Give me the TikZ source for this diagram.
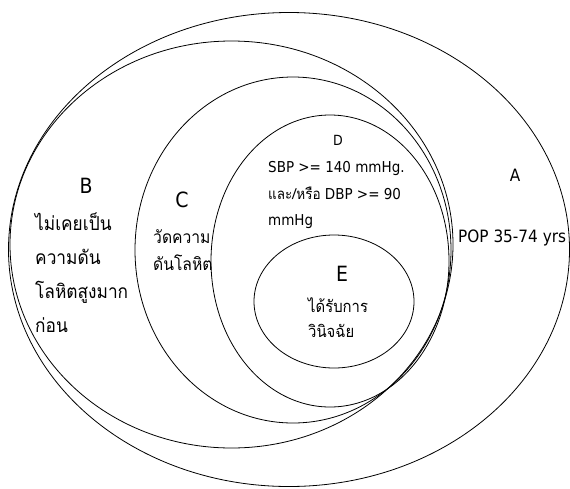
\documentclass[tikz,border=0pt]{standalone}
\usepackage{fontspec}
\setmainfont{DejaVu Sans Condensed}
\newfontfamily\thaifont[Script=Thai, FakeStretch=0.9]{Loma}
\tikzset{
  ring/.style={draw=black, line width=0.8pt},
  txt/.style={inner sep=0pt, anchor=base west},
  big/.style={inner sep=0pt, anchor=base, font=\fontsize{21}{21}\selectfont},
  thB/.style={txt, font=\fontsize{19.2}{19.2}\selectfont\thaifont},
  thC/.style={txt, font=\fontsize{17.4}{17.4}\selectfont\thaifont},
  thE/.style={txt, font=\fontsize{16.5}{16.5}\selectfont\thaifont},
  dtxt/.style={txt, font=\fontsize{15}{15}\selectfont},
}
\begin{document}
\begin{tikzpicture}[x=1pt,y=-1pt]
\useasboundingbox (0,0) rectangle (570,488);
% ellipses
\draw[ring] (289,249.5) ellipse [x radius=280.5, y radius=237];
\draw[ring] (231.5,244.5) ellipse [x radius=221.5, y radius=203.5];
\draw[ring] (293,250) ellipse [x radius=158, y radius=173];
\draw[ring] (330,261) ellipse [x radius=119, y radius=146];
\draw[ring] (334,301.5) ellipse [x radius=80, y radius=66.5];
% A
\node[inner sep=0pt, anchor=base, font=\fontsize{17}{17}\selectfont] (labA) at (515,181) {A};
\node[txt, font=\fontsize{17}{17}\selectfont] (popA) at (458,242) {POP 35-74 yrs};
% B
\node[big] (labB) at (86,193) {B};
\node[thB] (b1) at (35,230) {ไม่เคยเป็น};
\node[thB] (b2) at (35,264) {ความดัน};
\node[thB] (b3) at (35,298) {โลหิตสูงมาก};
\node[thB] (b4) at (35,332) {ก่อน};
% C
\node[big] (labC) at (182,207) {C};
\node[thC] (c1) at (153,243) {วัดความ};
\node[thC] (c2) at (153,270) {ดันโลหิต};
% D
\node[inner sep=0pt, anchor=base, font=\fontsize{14}{14}\selectfont] (labD) at (338,145) {D};
\node[dtxt] (d1) at (268,172) {SBP >= 140 mmHg.};
\node[dtxt] (d2) at (268,199) {{\thaifont และ/หรือ} DBP >= 90};
\node[dtxt] (d3) at (268,225) {mmHg};
% E
\node[big] (labE) at (342,281) {E};
\node[thE] (e1) at (308,312) {ได้รับการ};
\node[thE] (e2) at (308,337) {วินิจฉัย};
\end{tikzpicture}
\end{document}
